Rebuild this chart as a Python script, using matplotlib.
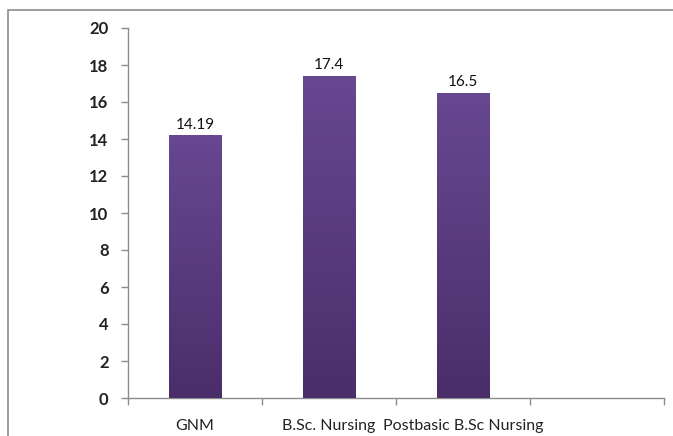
import matplotlib
matplotlib.use("Agg")
import matplotlib.pyplot as plt
from matplotlib.patches import Rectangle
from matplotlib.colors import LinearSegmentedColormap
import numpy as np

categories = ["GNM", "B.Sc. Nursing", "Postbasic B.Sc Nursing", ""]
values = [14.19, 17.4, 16.5, None]
value_labels = ["14.19", "17.4", "16.5"]
yticks = [0, 2, 4, 6, 8, 10, 12, 14, 16, 18, 20]

plt.rcParams['font.family'] = ['Lato', 'DejaVu Sans']

fig = plt.figure(figsize=(6.73, 4.36), dpi=100)
ax = fig.add_axes([128/673, 1 - 398/436, (664 - 128)/673, (398 - 28)/436])

# outer chart border (left and top visible)
fig.patches.append(Rectangle((8/673, -0.1), 2.0, 1.1 - 10/436, transform=fig.transFigure,
                             fill=False, edgecolor="#8c8c8c", linewidth=1.2))

x = np.arange(len(categories))
bar_vals = [v if v is not None else 0 for v in values]
bars = ax.bar(x[:3], bar_vals[:3], width=0.39, color="#5d3e84", zorder=2)

# vertical gradient on bars
grad = np.linspace(0, 1, 256).reshape(-1, 1)
cmap = LinearSegmentedColormap.from_list("g", ["#4a2e6a", "#674891"])
for b in bars:
    x0, y0, w, h = b.get_x(), b.get_y(), b.get_width(), b.get_height()
    im = ax.imshow(grad, extent=[x0, x0 + w, y0, y0 + h], origin="lower",
                   cmap=cmap, aspect="auto", zorder=3)
    im.set_clip_path(b)

for b, lab in zip(bars, value_labels):
    ax.text(b.get_x() + b.get_width() / 2, b.get_height() + 0.2, lab,
            ha="center", va="bottom", fontsize=11, color="#111111", zorder=4)

ax.set_xlim(-0.5, len(categories) - 0.5)
ax.set_ylim(0, 20)
ax.set_yticks(yticks)
ax.set_yticklabels([str(t) for t in yticks], fontsize=12, fontweight="bold", color="#222222")

ax.set_xticks(x)
ax.set_xticklabels(categories, fontsize=11.5, color="#222222")
ax.tick_params(axis="x", which="major", length=0, pad=15)
ax.set_xticks(np.arange(-0.5, len(categories)), minor=True)
ax.tick_params(axis="x", which="minor", length=5, color="#8c8c8c", width=1)
ax.tick_params(axis="y", length=5, color="#8c8c8c", width=1, pad=9)

for s in ["top", "right"]:
    ax.spines[s].set_visible(False)
for s in ["left", "bottom"]:
    ax.spines[s].set_color("#8c8c8c")
    ax.spines[s].set_linewidth(1)

fig.savefig("out.png", dpi=100)
